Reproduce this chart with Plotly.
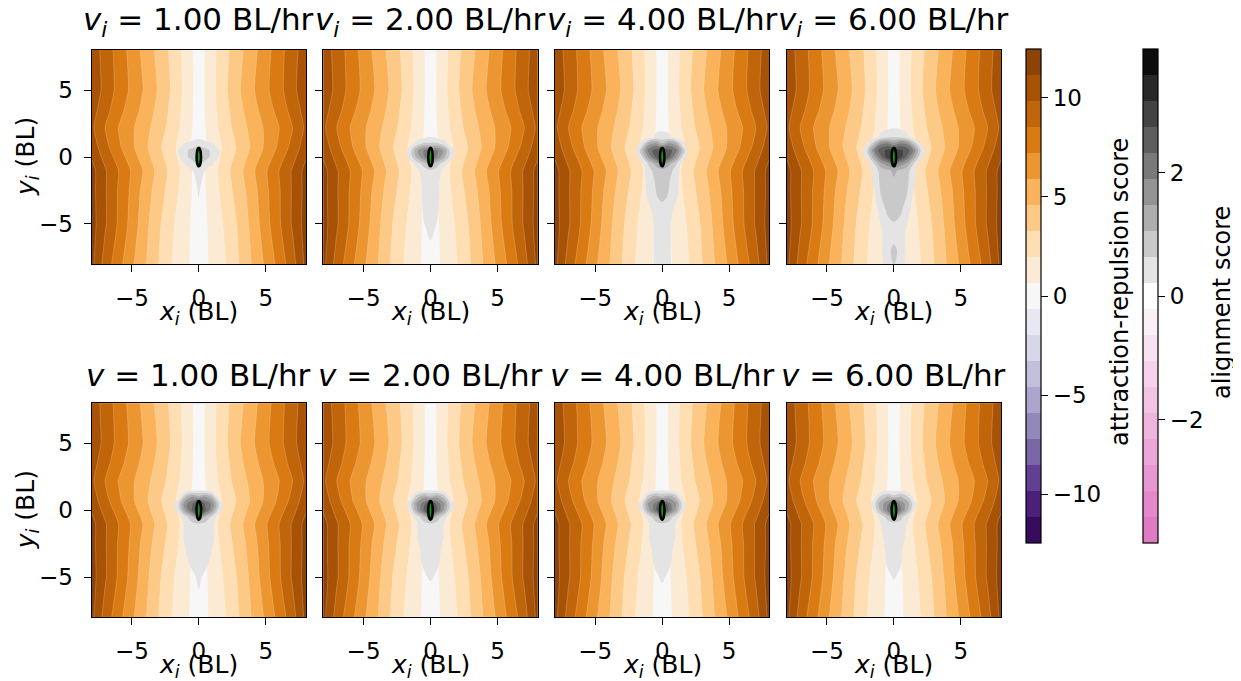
import numpy as np
import plotly.graph_objects as go

# ---------------- data ----------------
SPEEDS = [1.00, 2.00, 4.00, 6.00]
ROW_PREFIX = ["<i>v</i><sub><i>i</i></sub>", "<i>v</i>"]
AXIS_TICKS = [-5, 0, 5]
AXIS_TICKTEXT = ["\u22125", "0", "5"]
AR_CB_TICKS = [-10, -5, 0, 5, 10]
AR_CB_TICKTEXT = ["\u221210", "\u22125", "0", "5", "10"]
AL_CB_TICKS = [-2, 0, 2]
AL_CB_TICKTEXT = ["\u22122", "0", "2"]

# attraction-repulsion score, half grid (|x| >= 0), mirrored about x = 0
AR_X_HALF = [0, 1, 2, 3, 4, 5, 6, 7, 8]
AR_Y = [-8, -5, -2.5, -1, 0.7, 2.2, 3.5, 5, 8]
AR_Z_HALF = [
    [0, 0.93, 1.96, 3.27, 4.71, 6.14, 7.7, 9.3, 11.5],
    [0, 1.05, 2.2, 3.5, 5.0, 6.7, 8.34, 9.99, 11.7],
    [0, 1.28, 2.62, 3.9, 5.3, 6.9, 8.4, 9.96, 11.6],
    [0, 1.38, 2.84, 4.15, 5.64, 7.06, 8.52, 9.97, 11.6],
    [0, 1.13, 2.32, 3.54, 4.85, 6.16, 7.5, 9.0, 10.6],
    [0, 1.38, 2.75, 3.93, 5.02, 6.11, 7.2, 8.5, 10.1],
    [0, 1.5, 2.9, 4.2, 5.4, 6.5, 7.7, 9.0, 10.4],
    [0, 1.6, 3.1, 4.45, 5.7, 6.9, 8.1, 9.4, 10.8],
    [0, 1.54, 2.95, 4.2, 5.4, 6.7, 8.0, 9.3, 10.6],
]

# alignment score near the focal fish, half grid, rows from y = 2.5 down to y = -8
AL_X_HALF = [0, 0.5, 1.0, 1.5, 2.0, 2.5]
AL_Y_DESC = [2.5, 1.5, 1.0, 0.5, 0.0, -0.5, -1, -2, -3, -4, -5, -6, -7, -8]
AL_TOP_1 = [
    [0, 0, 0, 0, 0, 0], [0.1, 0, 0, 0, 0, 0], [0.45, 0.35, 0.25, 0, 0, 0],
    [0.9, 0.75, 0.55, 0.25, 0, 0], [1.0, 0.8, 0.5, 0.2, 0, 0], [0.7, 0.45, 0.25, 0, 0, 0],
    [0.3, 0.2, 0.05, 0, 0, 0], [0.24, 0.15, 0, 0, 0, 0], [0.22, 0.1, 0, 0, 0, 0],
    [0.1, 0, 0, 0, 0, 0], [0, 0, 0, 0, 0, 0], [0, 0, 0, 0, 0, 0],
    [0, 0, 0, 0, 0, 0], [0, 0, 0, 0, 0, 0],
]
AL_TOP_2 = [
    [0, 0, 0, 0, 0, 0], [0.2, 0.1, 0, 0, 0, 0], [0.7, 0.7, 0.45, 0, 0, 0],
    [1.9, 1.9, 1.4, 0.5, 0, 0], [2.5, 1.8, 1.2, 0.4, 0, 0], [1.2, 0.8, 0.4, 0, 0, 0],
    [0.6, 0.45, 0.1, 0, 0, 0], [0.45, 0.3, 0, 0, 0, 0], [0.4, 0.3, 0, 0, 0, 0],
    [0.35, 0.25, 0, 0, 0, 0], [0.3, 0.2, 0, 0, 0, 0], [0.25, 0.1, 0, 0, 0, 0],
    [0.1, 0, 0, 0, 0, 0], [0, 0, 0, 0, 0, 0],
]
AL_TOP_3 = [
    [0, 0, 0, 0, 0, 0], [0.35, 0.3, 0, 0, 0, 0], [1.1, 1.6, 1.3, 0.4, 0, 0],
    [2.6, 2.5, 2.1, 1.0, 0, 0], [3.0, 2.4, 1.6, 0.6, 0, 0], [1.6, 1.2, 0.7, 0.1, 0, 0],
    [0.9, 0.8, 0.5, 0, 0, 0], [0.75, 0.65, 0.4, 0, 0, 0], [0.7, 0.6, 0.3, 0, 0, 0],
    [0.5, 0.4, 0.1, 0, 0, 0], [0.45, 0.3, 0, 0, 0, 0], [0.4, 0.3, 0, 0, 0, 0],
    [0.4, 0.3, 0, 0, 0, 0], [0.4, 0.3, 0, 0, 0, 0],
]
AL_TOP_4 = [
    [0, 0, 0, 0, 0, 0], [0.6, 0.5, 0.3, 0, 0, 0], [1.6, 2.0, 1.8, 0.9, 0.2, 0],
    [3.0, 2.8, 2.6, 1.8, 0.6, 0], [3.3, 2.9, 2.2, 1.3, 0.3, 0], [2.0, 1.7, 1.3, 0.6, 0, 0],
    [1.1, 1.0, 0.8, 0.3, 0, 0], [1.0, 0.95, 0.7, 0.25, 0, 0], [0.95, 0.85, 0.6, 0.1, 0, 0],
    [0.8, 0.7, 0.35, 0, 0, 0], [0.6, 0.5, 0.2, 0, 0, 0], [0.55, 0.45, 0.1, 0, 0, 0],
    [0.7, 0.55, 0.1, 0, 0, 0], [0.65, 0.5, 0, 0, 0, 0],
]
AL_BOT_1 = [
    [0, 0, 0, 0, 0, 0], [0.2, 0.1, 0, 0, 0, 0], [1.2, 1.5, 1.0, 0, 0, 0],
    [3.0, 2.2, 1.8, 0.6, 0, 0], [3.3, 2.4, 1.5, 0.4, 0, 0], [1.6, 1.0, 0.5, 0, 0, 0],
    [0.6, 0.5, 0.3, 0, 0, 0], [0.5, 0.4, 0.3, 0, 0, 0], [0.45, 0.4, 0.2, 0, 0, 0],
    [0.4, 0.3, 0.1, 0, 0, 0], [0.3, 0.1, 0, 0, 0, 0], [0.2, 0, 0, 0, 0, 0],
    [0, 0, 0, 0, 0, 0], [0, 0, 0, 0, 0, 0],
]
AL_BOT_2 = [
    [0, 0, 0, 0, 0, 0], [0.2, 0.1, 0, 0, 0, 0], [1.1, 1.4, 0.9, 0, 0, 0],
    [3.0, 2.1, 1.6, 0.5, 0, 0], [3.3, 2.3, 1.4, 0.3, 0, 0], [1.5, 0.9, 0.4, 0, 0, 0],
    [0.6, 0.5, 0.2, 0, 0, 0], [0.5, 0.4, 0.2, 0, 0, 0], [0.45, 0.35, 0.1, 0, 0, 0],
    [0.4, 0.3, 0, 0, 0, 0], [0.3, 0.1, 0, 0, 0, 0], [0, 0, 0, 0, 0, 0],
    [0, 0, 0, 0, 0, 0], [0, 0, 0, 0, 0, 0],
]
AL_BOT_3 = [
    [0, 0, 0, 0, 0, 0], [0.2, 0.1, 0, 0, 0, 0], [1.0, 1.3, 0.9, 0, 0, 0],
    [2.9, 2.0, 1.6, 0.5, 0, 0], [3.1, 2.2, 1.4, 0.3, 0, 0], [1.4, 0.9, 0.4, 0, 0, 0],
    [0.6, 0.5, 0.2, 0, 0, 0], [0.5, 0.4, 0.2, 0, 0, 0], [0.45, 0.35, 0.1, 0, 0, 0],
    [0.4, 0.3, 0, 0, 0, 0], [0.3, 0.1, 0, 0, 0, 0], [0.1, 0, 0, 0, 0, 0],
    [0, 0, 0, 0, 0, 0], [0, 0, 0, 0, 0, 0],
]
AL_BOT_4 = [
    [0, 0, 0, 0, 0, 0], [0.15, 0.1, 0, 0, 0, 0], [0.8, 1.1, 0.7, 0, 0, 0],
    [2.6, 1.7, 1.3, 0.4, 0, 0], [2.8, 1.9, 1.1, 0.2, 0, 0], [1.2, 0.8, 0.3, 0, 0, 0],
    [0.5, 0.45, 0.2, 0, 0, 0], [0.45, 0.4, 0.1, 0, 0, 0], [0.4, 0.3, 0, 0, 0, 0],
    [0.35, 0.25, 0, 0, 0, 0], [0.25, 0.1, 0, 0, 0, 0], [0, 0, 0, 0, 0, 0],
    [0, 0, 0, 0, 0, 0], [0, 0, 0, 0, 0, 0],
]
AL_GRIDS = [AL_TOP_1, AL_TOP_2, AL_TOP_3, AL_TOP_4, AL_BOT_1, AL_BOT_2, AL_BOT_3, AL_BOT_4]

FOCAL_X, FOCAL_Y = 0.0, 0.0

# ---------------- style ----------------
W, H = 1241, 681
OFF = 8                      # default page margin of the html body
FW, FH = W - OFF, H - OFF    # figure size so that it fits the window
FONT = "DejaVu Sans"
PANEL_LEFT = [91.7, 323.4, 555.1, 786.8]
PANEL_W = 214.2
ROW_TOP = [50.0, 403.3]
PANEL_H = 214.0
TITLE_Y = [21.5, 375.5]
XLABEL_OFF = 49
AR_VMAX, AL_VMAX, NBANDS = 12.45, 4.0, 19
FISH_W, FISH_H = 0.33, 1.4
TICK_SIZE, LABEL_SIZE, TITLE_SIZE = 23, 25, 31


def px(xp):
    return (xp - OFF) / FW


def py(yp):
    return 1 - (yp - OFF) / FH


PUOR_R = ['#2d004b', '#542788', '#8073ac', '#b2abd2', '#d8daeb', '#f7f7f7',
          '#fee0b6', '#fdb863', '#e08214', '#b35806', '#7f3b08']
PINK_END = '#de73bf'


def hex2rgb(h):
    h = h.lstrip('#')
    return np.array([int(h[i:i + 2], 16) for i in (0, 2, 4)], float)


def sample(stops, t):
    n = len(stops) - 1
    p = t * n
    i = min(int(np.floor(p)), n - 1)
    f = p - i
    c = hex2rgb(stops[i]) * (1 - f) + hex2rgb(stops[i + 1]) * f
    return 'rgb(%d,%d,%d)' % tuple(np.round(c))


band_t = [(i + 0.5) / NBANDS for i in range(NBANDS)]
ar_colors = [sample(PUOR_R, t) for t in band_t]
al_colors = [sample([PINK_END, '#ffffff', '#000000'], t) for t in band_t]
ar_scale = [[i / (NBANDS - 1), c] for i, c in enumerate(ar_colors)]


def stepped(colors):
    out = []
    n = len(colors)
    for i, c in enumerate(colors):
        out.append([i / n, c])
        out.append([(i + 1) / n, c])
    return out


ar_bw = 2 * AR_VMAX / NBANDS
al_bw = 2 * AL_VMAX / NBANDS
al_levels = [-AL_VMAX + al_bw * (i + 1) for i in range(NBANDS - 1)]

# full grids built by mirroring the half grids
ar_x = [-v for v in AR_X_HALF[::-1][:-1]] + AR_X_HALF
ar_z = [row[::-1][:-1] + row for row in AR_Z_HALF]
al_x = [-v for v in AL_X_HALF[::-1][:-1]] + AL_X_HALF
al_y = AL_Y_DESC[::-1]

fig = go.Figure()
shapes, annotations = [], []
layout_axes = {}

for r in range(2):
    for c in range(4):
        k = r * 4 + c + 1
        xs = '' if k == 1 else str(k)
        xa, ya = 'x' + xs, 'y' + xs
        axcommon = dict(range=[-8, 8], showgrid=False, zeroline=False, showline=True,
                        mirror=True, linecolor='black', linewidth=1.3, ticks='outside',
                        ticklen=7, tickwidth=1.2, tickcolor='black', tickvals=AXIS_TICKS,
                        ticktext=AXIS_TICKTEXT,
                        tickfont=dict(family=FONT, size=TICK_SIZE, color='black'))
        layout_axes['xaxis' + xs] = dict(
            axcommon, domain=[px(PANEL_LEFT[c]), px(PANEL_LEFT[c] + PANEL_W)],
            anchor=ya, ticklabelstandoff=6)
        layout_axes['yaxis' + xs] = dict(
            axcommon, domain=[py(ROW_TOP[r] + PANEL_H), py(ROW_TOP[r])],
            anchor=xa, showticklabels=(c == 0), ticklabelstandoff=6)

        fig.add_trace(go.Contour(
            x=ar_x, y=AR_Y, z=ar_z, xaxis=xa, yaxis=ya,
            colorscale=ar_scale, autocontour=False,
            contours=dict(start=-AR_VMAX + ar_bw, end=AR_VMAX - ar_bw - 1e-6, size=ar_bw,
                          coloring='fill'),
            line=dict(width=0.6, color='rgba(255,255,255,0.35)', smoothing=0.5),
            showscale=False, hoverinfo='skip'))

        grid = AL_GRIDS[k - 1][::-1]
        al_z = [row[::-1][:-1] + row for row in grid]
        zmax = max(max(row) for row in grid)
        for li, lev in enumerate(al_levels):
            if lev <= 0 or lev >= zmax:
                continue
            # plotly shades the part of the grid that the constraint excludes,
            # so '<' shades the region where the score lies above the level
            fig.add_trace(go.Contour(
                x=al_x, y=al_y, z=al_z, xaxis=xa, yaxis=ya,
                contours=dict(type='constraint', operation='<', value=lev),
                fillcolor=al_colors[li + 1], line=dict(width=0, smoothing=1.0),
                showscale=False, hoverinfo='skip', showlegend=False))

        shapes.append(dict(type='circle', xref=xa, yref=ya,
                           x0=FOCAL_X - FISH_W / 2, x1=FOCAL_X + FISH_W / 2,
                           y0=FOCAL_Y - FISH_H / 2, y1=FOCAL_Y + FISH_H / 2,
                           fillcolor='#119a11', line=dict(color='black', width=2.5)))

        cx = px(PANEL_LEFT[c] + PANEL_W / 2)
        annotations.append(dict(
            text=f"{ROW_PREFIX[r]} = {SPEEDS[c]:.2f} BL/hr", xref='paper', yref='paper',
            x=cx, y=py(TITLE_Y[r]), xanchor='center', yanchor='middle', showarrow=False,
            font=dict(family=FONT, size=TITLE_SIZE, color='black')))
        annotations.append(dict(
            text="<i>x</i><sub><i>i</i></sub> (BL)", xref='paper', yref='paper',
            x=cx, y=py(ROW_TOP[r] + PANEL_H + XLABEL_OFF), xanchor='center',
            yanchor='middle', showarrow=False,
            font=dict(family=FONT, size=LABEL_SIZE, color='black')))
    annotations.append(dict(
        text="<i>y</i><sub><i>i</i></sub> (BL)", xref='paper', yref='paper',
        x=px(27), y=py(ROW_TOP[r] + PANEL_H / 2), xanchor='center', yanchor='middle',
        textangle=-90, showarrow=False,
        font=dict(family=FONT, size=LABEL_SIZE, color='black')))


def cbar(x_left, vals, text):
    return dict(x=px(x_left), xanchor='left', xpad=0, ypad=0,
                y=py(296), yanchor='middle', len=494 / FH, lenmode='fraction',
                thickness=15, thicknessmode='pixels', outlinewidth=1.2,
                outlinecolor='black', ticks='outside', ticklen=7, tickwidth=1.2,
                tickcolor='black', tickvals=vals, ticktext=text,
                tickfont=dict(family=FONT, size=TICK_SIZE, color='black'))


# colour bars (their carrier points sit outside the visible range of panel 1)
fig.add_trace(go.Scatter(
    x=[100], y=[100], mode='markers', xaxis='x', yaxis='y', hoverinfo='skip',
    marker=dict(color=[0], cmin=-AR_VMAX, cmax=AR_VMAX, colorscale=stepped(ar_colors),
                showscale=True, colorbar=cbar(1026, AR_CB_TICKS, AR_CB_TICKTEXT))))
fig.add_trace(go.Scatter(
    x=[100], y=[100], mode='markers', xaxis='x', yaxis='y', hoverinfo='skip',
    marker=dict(color=[0], cmin=-AL_VMAX, cmax=AL_VMAX, colorscale=stepped(al_colors),
                showscale=True, colorbar=cbar(1143, AL_CB_TICKS, AL_CB_TICKTEXT))))

annotations.append(dict(text="attraction-repulsion score", xref='paper', yref='paper',
                        x=px(1120), y=py(292), xanchor='center', yanchor='middle',
                        textangle=-90, showarrow=False,
                        font=dict(family=FONT, size=24, color='black')))
annotations.append(dict(text="alignment score", xref='paper', yref='paper',
                        x=px(1222), y=py(303), xanchor='center', yanchor='middle',
                        textangle=-90, showarrow=False,
                        font=dict(family=FONT, size=24, color='black')))

fig.update_layout(width=FW, height=FH, margin=dict(l=0, r=0, t=0, b=0, autoexpand=False),
                  paper_bgcolor='white', plot_bgcolor='white', showlegend=False,
                  font=dict(family=FONT, color='black'),
                  shapes=shapes, annotations=annotations, **layout_axes)

fig.write_html("out.html")
